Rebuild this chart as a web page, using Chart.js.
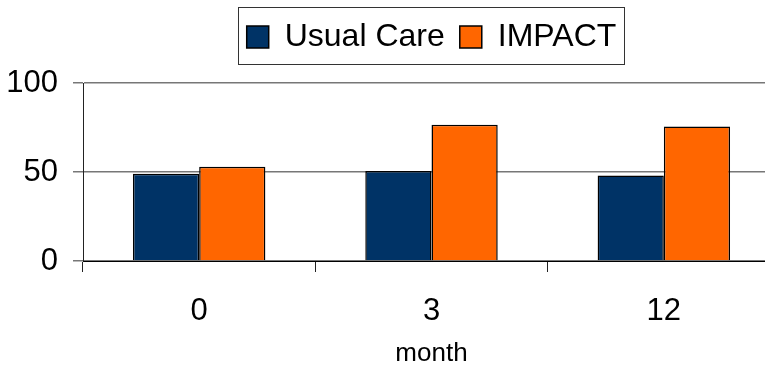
<!DOCTYPE html>
<html>
<head>
<meta charset="utf-8">
<script src="https://cdn.jsdelivr.net/npm/chart.js@4"></script>
<style>
  html, body { margin: 0; padding: 0; background: #fff; overflow: hidden; }
  #wrap { width: 780px; height: 367px; position: relative; }
</style>
</head>
<body>
<div id="wrap"><canvas id="maandChart"></canvas></div>
<script>
// waarden
var maanden = ['0', '3', '12'];
var usualCare = [49, 50.5, 48];
var impact = [53, 76.5, 75.5];
var yTicks = [0, 50, 100];

var lettertype = 'Liberation Sans, Arial, sans-serif';

// kader rond de legenda + wat extra ruimte onder de legenda
var legendaKader = {
  id: 'legendaKader',
  afterInit: function (chart) {
    var lg = chart.legend;
    if (!lg) return;
    var oudeFit = lg.fit;
    lg.fit = function () {
      oudeFit.call(this);
      this.height += 20;
    };
  },
  afterDraw: function (chart) {
    var lg = chart.legend;
    if (!lg || !lg.legendHitBoxes || !lg.legendHitBoxes.length) return;
    var links = Infinity, rechts = -Infinity, boven = Infinity, onder = -Infinity;
    lg.legendHitBoxes.forEach(function (b) {
      links = Math.min(links, b.left);
      rechts = Math.max(rechts, b.left + b.width);
      boven = Math.min(boven, b.top);
      onder = Math.max(onder, b.top + b.height);
    });
    var ctx = chart.ctx;
    ctx.save();
    ctx.strokeStyle = '#333';
    ctx.lineWidth = 1;
    ctx.strokeRect(Math.round(links - 9) + 0.5, Math.round(boven - 14) + 0.5,
      Math.round(rechts - links + 16), Math.round(onder - boven + 25));
    ctx.restore();
  }
};

var ctx = document.getElementById('maandChart').getContext('2d');
var maandChart = new Chart(ctx, {
  type: 'bar',
  data: {
    labels: maanden,
    datasets: [{
      label: 'Usual Care',
      data: usualCare,
      backgroundColor: '#003366',
      borderColor: '#000',
      borderWidth: 1.5
    }, {
      label: 'IMPACT',
      data: impact,
      backgroundColor: '#FF6600',
      borderColor: '#000',
      borderWidth: 1.5
    }]
  },
  options: {
    responsive: true,
    maintainAspectRatio: false,
    animation: false,
    layout: { padding: { left: 8, right: 0, top: 6, bottom: 0 } },
    datasets: { bar: { categoryPercentage: 0.57, barPercentage: 1 } },
    plugins: {
      tooltip: { enabled: false },
      legend: {
        position: 'top',
        fullSize: false,
        labels: {
          boxWidth: 22,
          boxHeight: 22,
          padding: 15,
          color: '#000',
          font: { family: lettertype, size: 32 }
        }
      }
    },
    scales: {
      x: {
        afterFit: function (axis) { axis.height = 106; },
        grid: { offset: true, drawOnChartArea: false, drawTicks: true, tickLength: 11, color: '#222' },
        border: { color: '#000', width: 1 },
        ticks: { color: '#000', padding: 21, font: { family: lettertype, size: 31 } },
        title: {
          display: true,
          text: 'month',
          color: '#000',
          padding: { top: 0, bottom: -2 },
          font: { family: lettertype, size: 26 }
        }
      },
      y: {
        min: 0,
        max: 100,
        afterFit: function (axis) { axis.width = 75; },
        afterBuildTicks: function (axis) {
          axis.ticks = yTicks.map(function (v) { return { value: v }; });
        },
        grid: { color: '#777', lineWidth: 1.5, tickLength: 10 },
        border: { color: '#222', width: 1 },
        ticks: { color: '#000', padding: 15, font: { family: lettertype, size: 31 } }
      }
    }
  },
  plugins: [legendaKader]
});
</script>
</body>
</html>
